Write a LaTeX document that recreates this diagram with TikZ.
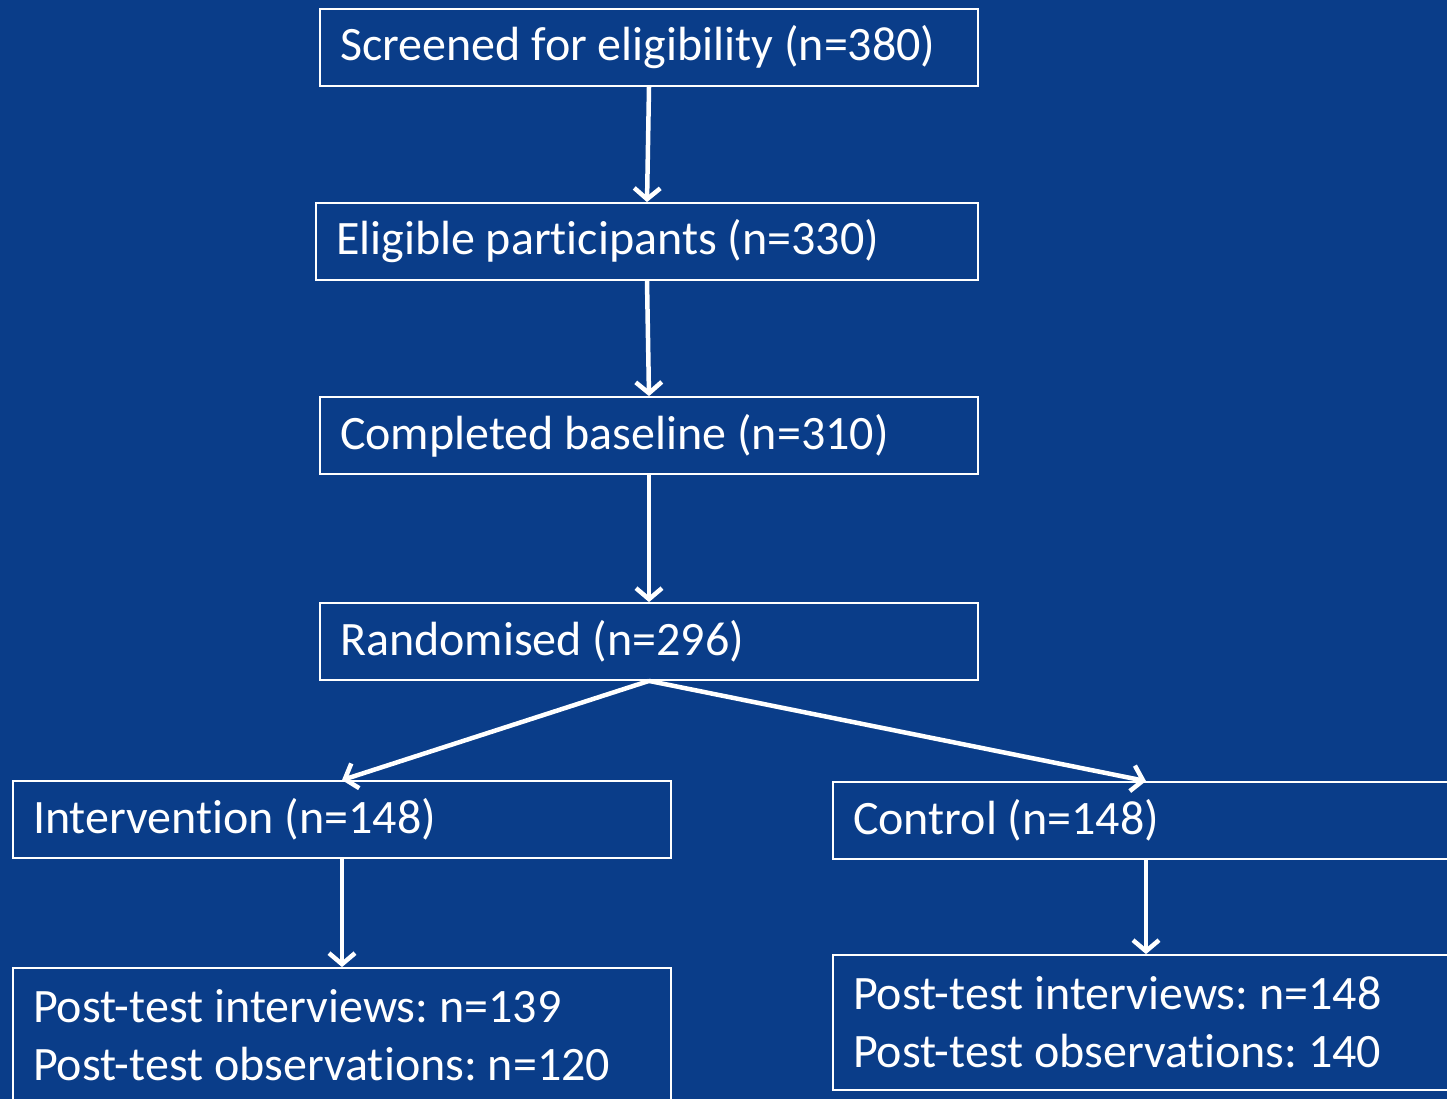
\documentclass[tikz,border=0pt]{standalone}
\usepackage{fontspec}
\setmainfont{Carlito}[Ligatures=NoCommon]
\frenchspacing
\usetikzlibrary{arrows.meta,positioning,calc}
\definecolor{slideblue}{RGB}{10,61,137}

\begin{document}
\begin{tikzpicture}[x=1pt,y=-1pt,
	stage/.style={draw=white,line width=1.8pt,text=white,align=flush left,minimum height=77pt,inner xsep=20pt,inner ysep=0pt,font=\fontsize{48}{58}\selectfont},
	flow/.style={white,line width=4.5pt,-{Straight Barb[length=11pt,width=26pt]}}]
	\useasboundingbox (0,0) rectangle (1447,1099);
	\fill [slideblue] (0,0) rectangle (1447,1099);
	\clip (0,0) rectangle (1447,1099);
	\node [stage,text width=618pt] (screen) at (649,47.5) {Screened for eligibility (n=380)};
	\node [stage,text width=622pt] (eligible) at (647,241.5) {Eligible participants (n=330)};
	\node [stage,text width=618pt] (baseline) at (649,435.5) {Completed baseline (n=310)};
	\node [stage,text width=618pt] (random) at (649,641.5) {Randomised (n=296)};
	\node [stage,text width=618pt] (interv) at (342,819.5) {Intervention (n=148)};
	\node [stage,text width=586pt] (control) at (1146,820.5) {Control (n=148)};
	\node [stage,text width=618pt,minimum height=135pt] (postI) at (342,1035.5) {Post-test interviews: n=139\\Post-test observations: n=120};
	\node [stage,text width=586pt,minimum height=135pt] (postC) at (1146,1022.5) {Post-test interviews: n=148\\Post-test observations: 140};
	\draw [flow] (screen.south) -- (eligible.north);
	\draw [flow] (eligible.south) -- (baseline.north);
	\draw [flow] (baseline.south) -- (random.north);
	\draw [flow] (random.south) -- (interv.north);
	\draw [flow] (random.south) -- (control.north);
	\draw [flow] (interv.south) -- (postI.north);
	\draw [flow] (control.south) -- (postC.north);
\end{tikzpicture}
\end{document}
